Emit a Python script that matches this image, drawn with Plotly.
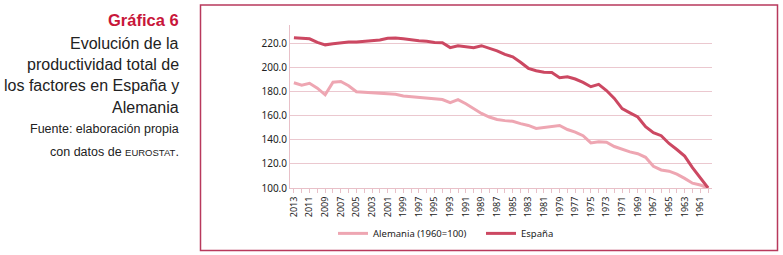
import plotly.graph_objects as go

years = list(range(2013, 1959, -1))

alemania = [187.5, 185.5, 187, 183, 177.5, 188, 188.5, 185, 180, 179.5,
            179, 179, 178.5, 178, 176.5, 176, 175.5, 174.5, 174, 173.5,
            171, 173.5, 170, 166, 162, 159, 157, 156, 155.5, 153.5,
            152, 149.5, 150.5, 151, 152, 148.6, 146.5, 143.5, 137.5, 138.5,
            138, 134.5, 132, 130, 128.5, 125.5, 118, 115, 114, 111.5,
            108, 104, 102.5, 100]

espana = [225, 224.5, 224, 221, 219, 220, 220.8, 221.3, 221.3, 221.7,
          222.7, 223, 224.5, 224.7, 224, 223, 222.5, 222, 221, 220.8,
          216.7, 218.3, 217.2, 216.7, 218.3, 216.3, 214, 211, 209, 204.5,
          199.5, 197.5, 196.2, 196, 191.7, 192.5, 190.6, 187.8, 184.2, 186.1,
          181, 174.5, 166, 162.5, 159, 151, 146, 143.5, 137, 132,
          126.5, 117, 108.5, 100]

W, H = 783, 255
L, R, T, B = 290, 712, 25, 187.7

def px(x):
    return (x - L) / (R - L)

def py(y):
    return (B - y) / (B - T)

fig = go.Figure()
fig.add_trace(go.Scatter(x=years, y=alemania, mode="lines", name="Alemania (1960=100)",
                         line=dict(color="#eea6b2", width=3)))
fig.add_trace(go.Scatter(x=years, y=espana, mode="lines", name="España",
                         line=dict(color="#cc4862", width=3)))

fig.update_layout(
    width=W, height=H,
    margin=dict(l=L, r=W - R, t=T, b=H - B, autoexpand=False),
    paper_bgcolor="white", plot_bgcolor="white",
    font=dict(family="Noto Sans", size=10, color="#222"),
    showlegend=True,
    legend=dict(orientation="h", x=px(333), y=py(233), xanchor="left", yanchor="middle",
                font=dict(size=9.5, color="#222"), itemwidth=30, entrywidth=103,
                tracegroupgap=0, bgcolor="rgba(0,0,0,0)"),
    xaxis=dict(range=[2013.5, 1959.5], tickmode="array",
               tickvals=list(range(2013, 1959, -2)),
               ticktext=[str(v) for v in range(2013, 1959, -2)],
               tickangle=-90, showgrid=False, zeroline=False,
               showline=True, linecolor="#e8c0c8", linewidth=1,
               ticks="outside", ticklen=4, tickcolor="#e8c0c8",
               minor=dict(tickvals=list(range(2012, 1959, -2)), ticks="outside", ticklen=4,
                          tickcolor="#e8c0c8", showgrid=False),
               tickfont=dict(size=9, color="#222")),
    yaxis=dict(range=[100, 235.5], tickvals=[100, 120, 140, 160, 180, 200, 220],
               ticktext=["100.0", "120.0", "140.0", "160.0", "180.0", "200.0", "220.0"],
               showgrid=True, gridcolor="#ebc8cf", gridwidth=1, zeroline=False,
               showline=True, linecolor="#e8c0c8", linewidth=1,
               ticks="", tickfont=dict(size=10, color="#222")),
)

# chart frame
fig.add_shape(type="rect", xref="paper", yref="paper",
              x0=px(200.5), x1=px(777.5), y0=py(250), y1=py(5),
              line=dict(color="#b8395c", width=1.5), fillcolor="rgba(0,0,0,0)", layer="below")

left_lines = [
    ("<b>Gráfica 6</b>", 20.5, 16.5, "#c8163a"),
    ("Evolución de la", 43, 16, "#222"),
    ("productividad total de", 64, 16, "#222"),
    ("los factores en España y", 85, 16, "#222"),
    ("Alemania", 107, 16, "#222"),
    ("Fuente: elaboración propia", 129, 12.5, "#222"),
    ("con datos de <span style='font-size:9.5px'>EUROSTAT</span>.", 152, 12.5, "#222"),
]
for text, y, size, color in left_lines:
    fig.add_annotation(text=text, xref="paper", yref="paper", x=px(181), y=py(y),
                       xanchor="right", yanchor="middle", showarrow=False, align="right",
                       font=dict(family="Liberation Sans", size=size, color=color))

fig.write_html("out.html", config={"displayModeBar": False},
               post_script="document.body.style.margin='0px';")
